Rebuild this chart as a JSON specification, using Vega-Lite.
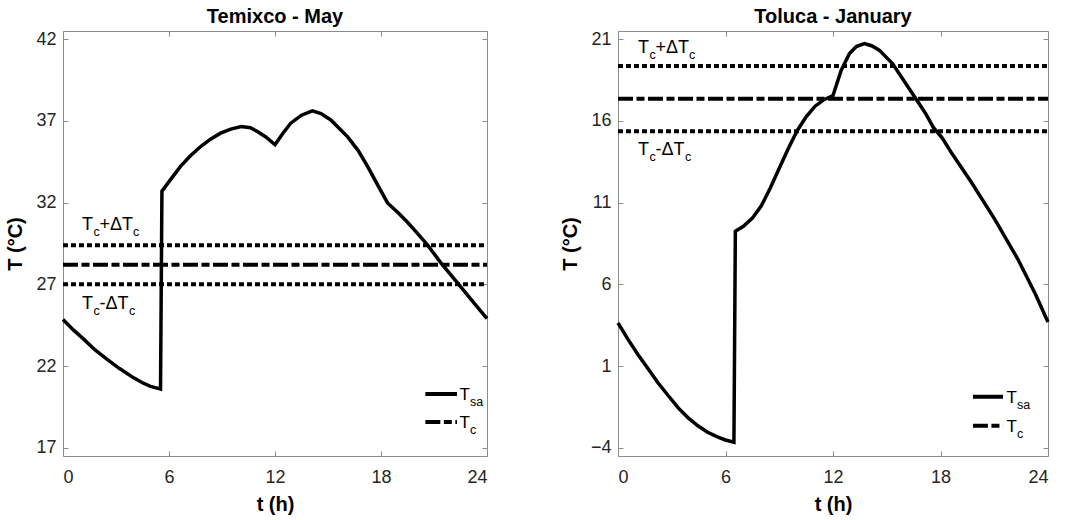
{
  "$schema": "https://vega.github.io/schema/vega-lite/v6.json",
  "padding": {"left": 5, "top": 7, "right": 5, "bottom": 5},
  "spacing": 66,
  "config": {
    "font": "Liberation Sans",
    "view": {"stroke": null},
    "title": {"fontSize": 20, "fontWeight": "bold", "color": "#000000", "offset": 3, "anchor": "middle", "font": "Liberation Sans"},
    "axis": {
      "grid": false,
      "domainColor": "#8c8c8c",
      "domainWidth": 1,
      "tickColor": "#8c8c8c",
      "tickSize": -5,
      "tickWidth": 1,
      "labelColor": "#262626",
      "labelFont": "Liberation Sans",
      "labelFontSize": 18,
      "titleFont": "Liberation Sans",
      "titleFontSize": 20,
      "titleFontWeight": "bold",
      "titleColor": "#000000"
    },
    "axisBottom": {"labelPadding": 17, "titlePadding": 8},
    "axisLeft": {"labelPadding": 12, "titlePadding": 10}
  },
  "datasets": {
    "temixco": [
      {"t": 0, "T": 24.85}, {"t": 0.6, "T": 24.2}, {"t": 1.17, "T": 23.65}, {"t": 1.8, "T": 23.0},
      {"t": 2.5, "T": 22.41}, {"t": 3.2, "T": 21.85}, {"t": 4.0, "T": 21.28}, {"t": 4.5, "T": 20.98},
      {"t": 4.95, "T": 20.76}, {"t": 5.52, "T": 20.6}, {"t": 5.6, "T": 32.7}, {"t": 6.15, "T": 33.5},
      {"t": 6.65, "T": 34.22}, {"t": 7.2, "T": 34.85}, {"t": 7.79, "T": 35.43}, {"t": 8.35, "T": 35.88},
      {"t": 8.92, "T": 36.25}, {"t": 9.5, "T": 36.5}, {"t": 10.09, "T": 36.65}, {"t": 10.6, "T": 36.58},
      {"t": 11.0, "T": 36.35}, {"t": 11.5, "T": 36.0}, {"t": 12.0, "T": 35.54}, {"t": 12.45, "T": 36.25},
      {"t": 12.89, "T": 36.86}, {"t": 13.5, "T": 37.35}, {"t": 14.12, "T": 37.61}, {"t": 14.6, "T": 37.45},
      {"t": 15.16, "T": 37.06}, {"t": 16.1, "T": 36.04}, {"t": 16.7, "T": 35.2}, {"t": 17.24, "T": 34.22},
      {"t": 17.8, "T": 33.1}, {"t": 18.37, "T": 31.98}, {"t": 19.0, "T": 31.35}, {"t": 19.5, "T": 30.8},
      {"t": 20.0, "T": 30.2}, {"t": 20.64, "T": 29.4}, {"t": 21.4, "T": 28.3}, {"t": 22.4, "T": 27.0},
      {"t": 23.2, "T": 25.95}, {"t": 24, "T": 24.9}
    ],
    "toluca": [
      {"t": 0, "T": 3.65}, {"t": 0.55, "T": 2.65}, {"t": 1.12, "T": 1.7}, {"t": 1.7, "T": 0.8},
      {"t": 2.23, "T": -0.02}, {"t": 2.8, "T": -0.8}, {"t": 3.35, "T": -1.54}, {"t": 3.9, "T": -2.15},
      {"t": 4.46, "T": -2.65}, {"t": 5.0, "T": -3.05}, {"t": 5.58, "T": -3.35}, {"t": 6.0, "T": -3.52},
      {"t": 6.47, "T": -3.66}, {"t": 6.55, "T": 9.25}, {"t": 7.0, "T": 9.55}, {"t": 7.5, "T": 10.05},
      {"t": 8.0, "T": 10.8}, {"t": 8.5, "T": 11.9}, {"t": 9.0, "T": 13.1}, {"t": 9.5, "T": 14.3},
      {"t": 10.0, "T": 15.4}, {"t": 10.5, "T": 16.25}, {"t": 11.0, "T": 16.9}, {"t": 11.5, "T": 17.3},
      {"t": 12.0, "T": 17.55}, {"t": 12.46, "T": 19.1}, {"t": 12.92, "T": 20.12}, {"t": 13.3, "T": 20.55},
      {"t": 13.75, "T": 20.73}, {"t": 14.15, "T": 20.6}, {"t": 14.58, "T": 20.33}, {"t": 15.32, "T": 19.51},
      {"t": 16.06, "T": 18.29}, {"t": 16.8, "T": 17.07}, {"t": 17.2, "T": 16.4}, {"t": 17.6, "T": 15.6},
      {"t": 18.1, "T": 14.95}, {"t": 18.64, "T": 14.0}, {"t": 19.75, "T": 12.2}, {"t": 21.04, "T": 9.96},
      {"t": 22.33, "T": 7.52}, {"t": 23.3, "T": 5.4}, {"t": 24, "T": 3.7}
    ],
    "refs": [
      {"city": "Temixco", "kind": "upper", "T": 29.4},
      {"city": "Temixco", "kind": "center", "T": 28.2},
      {"city": "Temixco", "kind": "lower", "T": 27.0},
      {"city": "Toluca", "kind": "upper", "T": 19.36},
      {"city": "Toluca", "kind": "center", "T": 17.36},
      {"city": "Toluca", "kind": "lower", "T": 15.36}
    ],
    "annot": [
      {"city": "Temixco", "kind": "upper", "t": 1.08, "T": 30.35, "op": "+ΔT"},
      {"city": "Temixco", "kind": "lower", "t": 1.08, "T": 25.51, "op": "-ΔT"},
      {"city": "Toluca", "kind": "upper", "t": 1.12, "T": 20.14, "op": "+ΔT"},
      {"city": "Toluca", "kind": "lower", "t": 1.12, "T": 13.92, "op": "-ΔT"}
    ],
    "leg": [
      {"city": "Temixco", "key": "Tsa", "sub": "sa", "T": 20.3},
      {"city": "Temixco", "key": "Tc", "sub": "c", "T": 18.58},
      {"city": "Toluca", "key": "Tsa", "sub": "sa", "T": -0.87},
      {"city": "Toluca", "key": "Tc", "sub": "c", "T": -2.65}
    ]
  },
  "hconcat": [
    {
      "width": 424,
      "height": 425,
      "title": "Temixco - May",
      "resolve": {"axis": {"x": "independent", "y": "independent"}},
      "layer": [
        {
          "data": {"name": "temixco"},
          "mark": {"type": "line", "color": "#000000", "strokeWidth": 3.5},
          "encoding": {
            "x": {"field": "t", "type": "quantitative", "scale": {"domain": [0, 24], "nice": false}, "axis": {"values": [0, 6, 12, 18, 24], "title": "t (h)"}},
            "y": {"field": "T", "type": "quantitative", "scale": {"domain": [16.5, 42.5], "nice": false, "zero": false}, "axis": {"values": [17, 22, 27, 32, 37, 42], "title": "T (°C)"}}
          }
        },
        {
          "data": {"name": "refs"},
          "transform": [{"filter": "datum.city === 'Temixco'"}],
          "mark": {"type": "rule", "color": "#000000", "strokeWidth": 4},
          "encoding": {
            "x": {"datum": 0, "type": "quantitative", "axis": {"orient": "top", "values": [0, 6, 12, 18, 24], "labels": false, "title": null}},
            "x2": {"datum": 24},
            "y": {"field": "T", "type": "quantitative", "axis": {"orient": "right", "values": [17, 22, 27, 32, 37, 42], "labels": false, "title": null}},
            "strokeDash": {"field": "kind", "type": "nominal", "scale": {"domain": ["upper", "center", "lower", "Tsa", "Tc"], "range": [[5, 3], [15, 3.5, 8, 3.5], [5, 3], [1, 0], [15, 3.5, 8, 3.5]]}, "legend": null}
          }
        },
        {
          "data": {"name": "annot"},
          "transform": [{"filter": "datum.city === 'Temixco'"}],
          "layer": [
            {"mark": {"type": "text", "text": "T", "align": "left", "baseline": "alphabetic", "fontSize": 18, "color": "#000000"}},
            {"mark": {"type": "text", "text": "c", "align": "left", "baseline": "alphabetic", "fontSize": 12.5, "dx": 11.5, "dy": 6, "color": "#000000"}},
            {"mark": {"type": "text", "align": "left", "baseline": "alphabetic", "fontSize": 18, "dx": 17.5, "color": "#000000"}, "encoding": {"text": {"field": "op"}}},
            {"transform": [{"filter": "datum.kind === 'upper'"}], "mark": {"type": "text", "text": "c", "align": "left", "baseline": "alphabetic", "fontSize": 12.5, "dx": 51, "dy": 6, "color": "#000000"}},
            {"transform": [{"filter": "datum.kind === 'lower'"}], "mark": {"type": "text", "text": "c", "align": "left", "baseline": "alphabetic", "fontSize": 12.5, "dx": 47, "dy": 6, "color": "#000000"}}
          ],
          "encoding": {
            "x": {"field": "t", "type": "quantitative", "axis": null},
            "y": {"field": "T", "type": "quantitative", "axis": null}
          }
        },
        {
          "data": {"name": "leg"},
          "transform": [{"filter": "datum.city === 'Temixco'"}],
          "layer": [
            {
              "mark": {"type": "rule", "color": "#000000", "strokeWidth": 4},
              "encoding": {
                "x": {"datum": 20.51, "type": "quantitative", "axis": null},
                "x2": {"datum": 22.3},
                "strokeDash": {"field": "key", "type": "nominal", "scale": {"domain": ["upper", "center", "lower", "Tsa", "Tc"], "range": [[5, 3], [15, 3.5, 8, 3.5], [5, 3], [1, 0], [15, 3.5, 8, 3.5]]}, "legend": null}
              }
            },
            {
              "mark": {"type": "text", "text": "T", "align": "left", "baseline": "alphabetic", "fontSize": 17, "dy": 6, "color": "#000000"},
              "encoding": {"x": {"datum": 22.45, "type": "quantitative", "axis": null}}
            },
            {
              "mark": {"type": "text", "align": "left", "baseline": "alphabetic", "fontSize": 12.5, "dx": 10.5, "dy": 12, "color": "#000000"},
              "encoding": {"x": {"datum": 22.45, "type": "quantitative", "axis": null}, "text": {"field": "sub"}}
            }
          ],
          "encoding": {
            "y": {"field": "T", "type": "quantitative", "axis": null}
          }
        }
      ]
    },
    {
      "width": 430,
      "height": 425,
      "title": "Toluca - January",
      "resolve": {"axis": {"x": "independent", "y": "independent"}},
      "layer": [
        {
          "data": {"name": "toluca"},
          "mark": {"type": "line", "color": "#000000", "strokeWidth": 3.5},
          "encoding": {
            "x": {"field": "t", "type": "quantitative", "scale": {"domain": [0, 24], "nice": false}, "axis": {"values": [0, 6, 12, 18, 24], "title": "t (h)"}},
            "y": {"field": "T", "type": "quantitative", "scale": {"domain": [-4.5, 21.5], "nice": false, "zero": false}, "axis": {"values": [-4, 1, 6, 11, 16, 21], "title": "T (°C)"}}
          }
        },
        {
          "data": {"name": "refs"},
          "transform": [{"filter": "datum.city === 'Toluca'"}],
          "mark": {"type": "rule", "color": "#000000", "strokeWidth": 4},
          "encoding": {
            "x": {"datum": 0, "type": "quantitative", "axis": {"orient": "top", "values": [0, 6, 12, 18, 24], "labels": false, "title": null}},
            "x2": {"datum": 24},
            "y": {"field": "T", "type": "quantitative", "axis": {"orient": "right", "values": [-4, 1, 6, 11, 16, 21], "labels": false, "title": null}},
            "strokeDash": {"field": "kind", "type": "nominal", "scale": {"domain": ["upper", "center", "lower", "Tsa", "Tc"], "range": [[5, 3], [15, 3.5, 8, 3.5], [5, 3], [1, 0], [15, 3.5, 8, 3.5]]}, "legend": null}
          }
        },
        {
          "data": {"name": "annot"},
          "transform": [{"filter": "datum.city === 'Toluca'"}],
          "layer": [
            {"mark": {"type": "text", "text": "T", "align": "left", "baseline": "alphabetic", "fontSize": 18, "color": "#000000"}},
            {"mark": {"type": "text", "text": "c", "align": "left", "baseline": "alphabetic", "fontSize": 12.5, "dx": 11.5, "dy": 6, "color": "#000000"}},
            {"mark": {"type": "text", "align": "left", "baseline": "alphabetic", "fontSize": 18, "dx": 17.5, "color": "#000000"}, "encoding": {"text": {"field": "op"}}},
            {"transform": [{"filter": "datum.kind === 'upper'"}], "mark": {"type": "text", "text": "c", "align": "left", "baseline": "alphabetic", "fontSize": 12.5, "dx": 51, "dy": 6, "color": "#000000"}},
            {"transform": [{"filter": "datum.kind === 'lower'"}], "mark": {"type": "text", "text": "c", "align": "left", "baseline": "alphabetic", "fontSize": 12.5, "dx": 47, "dy": 6, "color": "#000000"}}
          ],
          "encoding": {
            "x": {"field": "t", "type": "quantitative", "axis": null},
            "y": {"field": "T", "type": "quantitative", "axis": null}
          }
        },
        {
          "data": {"name": "leg"},
          "transform": [{"filter": "datum.city === 'Toluca'"}],
          "layer": [
            {
              "mark": {"type": "rule", "color": "#000000", "strokeWidth": 4},
              "encoding": {
                "x": {"datum": 19.81, "type": "quantitative", "axis": null},
                "x2": {"datum": 21.49},
                "strokeDash": {"field": "key", "type": "nominal", "scale": {"domain": ["upper", "center", "lower", "Tsa", "Tc"], "range": [[5, 3], [15, 3.5, 8, 3.5], [5, 3], [1, 0], [15, 3.5, 8, 3.5]]}, "legend": null}
              }
            },
            {
              "mark": {"type": "text", "text": "T", "align": "left", "baseline": "alphabetic", "fontSize": 17, "dy": 6, "color": "#000000"},
              "encoding": {"x": {"datum": 21.68, "type": "quantitative", "axis": null}}
            },
            {
              "mark": {"type": "text", "align": "left", "baseline": "alphabetic", "fontSize": 12.5, "dx": 10.5, "dy": 12, "color": "#000000"},
              "encoding": {"x": {"datum": 21.68, "type": "quantitative", "axis": null}, "text": {"field": "sub"}}
            }
          ],
          "encoding": {
            "y": {"field": "T", "type": "quantitative", "axis": null}
          }
        }
      ]
    }
  ]
}
